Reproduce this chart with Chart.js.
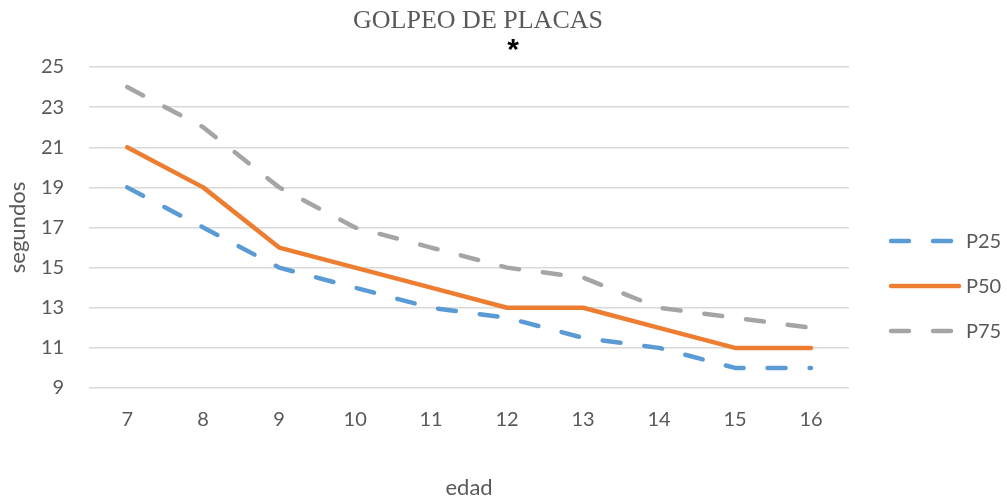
<!DOCTYPE html>
<html>
<head>
<meta charset="utf-8">
<script src="https://cdn.jsdelivr.net/npm/chart.js@4/dist/chart.umd.min.js"></script>
<style>
  html, body { margin: 0; padding: 0; background: #ffffff; }
  #wrap { width: 1007px; height: 499px; }
</style>
</head>
<body>
<div id="wrap"><canvas id="c" width="1007" height="499"></canvas></div>
<script>
// Edad (años) en el eje horizontal
const edades = ['7', '8', '9', '10', '11', '12', '13', '14', '15', '16'];

// Percentiles de tiempo (segundos) por edad
const p25 = [19, 17, 15, 14, 13, 12.5, 11.5, 11, 10, 10];
const p50 = [21, 19, 16, 15, 14, 13, 13, 12, 11, 11];
const p75 = [24, 22, 19, 17, 16, 15, 14.5, 13, 12.5, 12];

const serieNombres = ['P25', 'P50', 'P75'];
const tituloGrafico = 'GOLPEO DE PLACAS';
const marcaTitulo = '*';

const gris = '#595959';
const fuente = 'Lato, "Open Sans", sans-serif';

// Title and the asterisk under it
const tituloPlugin = {
  id: 'tituloGolpeo',
  afterDraw(chart) {
    const ctx = chart.ctx;
    ctx.save();
    ctx.fillStyle = gris;
    ctx.font = '26px "Liberation Serif", "DejaVu Serif", serif';
    ctx.textAlign = 'center';
    ctx.textBaseline = 'alphabetic';
    ctx.fillText(tituloGrafico, 478, 28);
    ctx.fillStyle = '#000000';
    ctx.font = 'bold 30px "Liberation Sans", sans-serif';
    ctx.fillText(marcaTitulo, 513, 59);
    ctx.restore();
  }
};

// Legend column on the right, using each dataset's own stroke style
const leyendaPlugin = {
  id: 'leyendaDerecha',
  afterDraw(chart) {
    const ctx = chart.ctx;
    ctx.save();
    chart.data.datasets.forEach((ds, i) => {
      const y = 241 + i * 45;
      ctx.beginPath();
      ctx.strokeStyle = ds.borderColor;
      ctx.lineWidth = ds.borderWidth;
      ctx.lineCap = 'round';
      ctx.setLineDash(ds.borderDash || []);
      ctx.moveTo(891, y);
      ctx.lineTo(959, y);
      ctx.stroke();
      ctx.setLineDash([]);
      ctx.fillStyle = gris;
      ctx.font = '20px ' + fuente;
      ctx.textAlign = 'left';
      ctx.textBaseline = 'middle';
      ctx.fillText(ds.label, 966, y + 1);
    });
    ctx.restore();
  }
};

const lineaBase = {
  borderWidth: 4.5,
  borderCapStyle: 'round',
  borderJoinStyle: 'round',
  pointRadius: 0,
  fill: false,
  tension: 0
};

new Chart(document.getElementById('c'), {
  type: 'line',
  data: {
    labels: edades,
    datasets: [
      Object.assign({ label: serieNombres[0], data: p25, borderColor: '#5B9BD5', borderDash: [18, 24] }, lineaBase),
      Object.assign({ label: serieNombres[1], data: p50, borderColor: '#ED7D31' }, lineaBase),
      Object.assign({ label: serieNombres[2], data: p75, borderColor: '#A5A5A5', borderDash: [18, 24] }, lineaBase)
    ]
  },
  options: {
    responsive: false,
    animation: false,
    layout: { padding: { top: 67, right: 158, bottom: 0, left: 0 } },
    plugins: {
      legend: { display: false },
      title: { display: false },
      tooltip: { enabled: false }
    },
    scales: {
      x: {
        offset: true,
        grid: { display: true, color: 'rgba(0,0,0,0)', tickColor: 'rgba(0,0,0,0)', drawTicks: true, tickLength: 15 },
        border: { display: false },
        ticks: { color: gris, font: { family: fuente, size: 20 }, padding: 5, maxRotation: 0 },
        title: {
          display: true,
          text: 'edad',
          color: gris,
          font: { family: fuente, size: 22, lineHeight: 1 },
          padding: { top: 40, bottom: 0 }
        }
      },
      y: {
        min: 9,
        max: 25,
        ticks: { stepSize: 2, color: gris, font: { family: fuente, size: 20 }, padding: 5 },
        grid: { color: '#D9D9D9', lineWidth: 1.5, drawTicks: true, tickLength: 20, tickColor: 'rgba(0,0,0,0)' },
        border: { display: false },
        title: {
          display: true,
          text: 'segundos',
          color: gris,
          font: { family: fuente, size: 22, lineHeight: 1 },
          padding: { top: 7, bottom: 7 }
        }
      }
    }
  },
  plugins: [tituloPlugin, leyendaPlugin]
});
</script>
</body>
</html>
